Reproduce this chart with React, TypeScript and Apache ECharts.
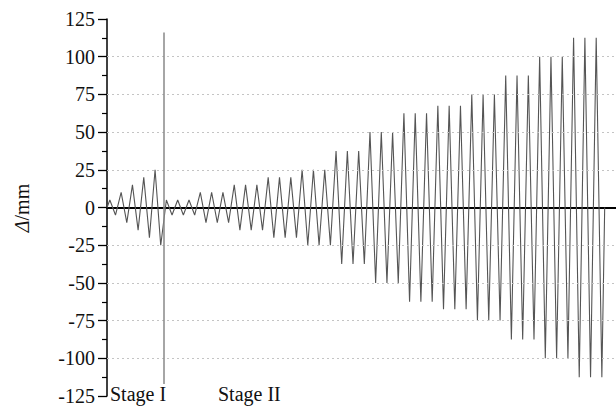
import React, { useEffect, useRef } from "react";
import * as echarts from "echarts";

// Cycle amplitudes (mm)
const stage1Amplitudes: number[] = [5, 10, 15, 20, 25];
const stage2Amplitudes: number[] = [
  5, 5, 5, 10, 10, 10, 15, 15, 15, 20, 20, 20, 25, 25, 25,
  37.5, 37.5, 37.5, 50, 50, 50, 62.5, 62.5, 62.5, 67.5, 67.5, 67.5,
  75, 75, 75, 87.5, 87.5, 87.5, 100, 100, 100, 112.5, 112.5, 112.5,
];
const yTicks: number[] = [-125, -100, -75, -50, -25, 0, 25, 50, 75, 100, 125];
const gridValues: number[] = [-100, -75, -50, -25, 25, 50, 75, 100];
const stageLabels: string[] = ["Stage I", "Stage II"];
const stageBoundary = { t: 20, top: 116, bottom: -117 };

function buildPoints(): [number, number][] {
  const all = [...stage1Amplitudes, ...stage2Amplitudes];
  const pts: [number, number][] = [[0, 0]];
  all.forEach((a, k) => {
    pts.push([1 + 4 * k, a]);
    pts.push([3 + 4 * k, -a]);
  });
  pts.push([4 * all.length, 0]);
  return pts;
}

export default function App() {
  const ref = useRef<HTMLDivElement>(null);
  useEffect(() => {
    if (!ref.current) return;
    const chart = echarts.init(ref.current, undefined, { renderer: "svg" });
    const serif = "'Liberation Serif', 'Times New Roman', serif";
    chart.setOption({
      animation: false,
      backgroundColor: "#fff",
      grid: { left: 107, right: 0, top: 19, bottom: 9 },
      xAxis: {
        type: "value",
        min: 0,
        max: 180,
        axisLine: { show: true, onZero: true, lineStyle: { color: "#000", width: 2 } },
        axisTick: { show: false },
        axisLabel: { show: false },
        splitLine: { show: false },
      },
      yAxis: {
        type: "value",
        min: yTicks[0],
        max: yTicks[yTicks.length - 1],
        interval: 25,
        axisLine: { show: true, lineStyle: { color: "#000", width: 1.5 } },
        axisTick: { show: true, inside: false, length: 9, lineStyle: { color: "#000", width: 1.3 } },
        minorTick: { show: true, splitNumber: 2, length: 5, lineStyle: { color: "#000", width: 1.2 } },
        axisLabel: { color: "#111", fontFamily: serif, fontSize: 20, margin: 12 },
        splitLine: { show: false },
      },
      series: [
        {
          type: "line",
          z: 1,
          data: [],
          silent: true,
          markLine: {
            silent: true,
            symbol: ["none", "none"],
            label: { show: false },
            lineStyle: { color: "#c4c4c4", type: [2, 3], width: 1.2 },
            data: gridValues.map((v) => ({ yAxis: v })),
          },
        },
        {
          type: "line",
          z: 3,
          data: buildPoints(),
          showSymbol: false,
          symbol: "none",
          lineStyle: { color: "#555", width: 1.1 },
          markLine: {
            silent: true,
            symbol: ["none", "none"],
            label: { show: false },
            lineStyle: { color: "#888", type: "solid", width: 1.5 },
            data: [
              [
                { coord: [stageBoundary.t, stageBoundary.top] },
                { coord: [stageBoundary.t, stageBoundary.bottom] },
              ],
            ],
          },
        },
      ],
      graphic: [
        {
          type: "text",
          x: 22,
          y: 208,
          rotation: Math.PI / 2,
          style: {
            text: "{i|Δ}/mm",
            fontFamily: serif,
            fontSize: 20,
            fill: "#111",
            align: "center",
            verticalAlign: "middle",
            rich: { i: { fontStyle: "italic", fontFamily: serif, fontSize: 20, fill: "#111" } },
          },
        },
        {
          type: "text",
          x: 110,
          y: 394,
          style: { text: stageLabels[0], fontFamily: serif, fontSize: 20, fill: "#111", verticalAlign: "middle" },
        },
        {
          type: "text",
          x: 218,
          y: 394,
          style: { text: stageLabels[1], fontFamily: serif, fontSize: 20, fill: "#111", verticalAlign: "middle" },
        },
      ],
    });
    return () => chart.dispose();
  }, []);
  return (
    <div
      ref={ref}
      style={{ position: "fixed", left: 0, top: 0, width: 616, height: 406 }}
    />
  );
}
